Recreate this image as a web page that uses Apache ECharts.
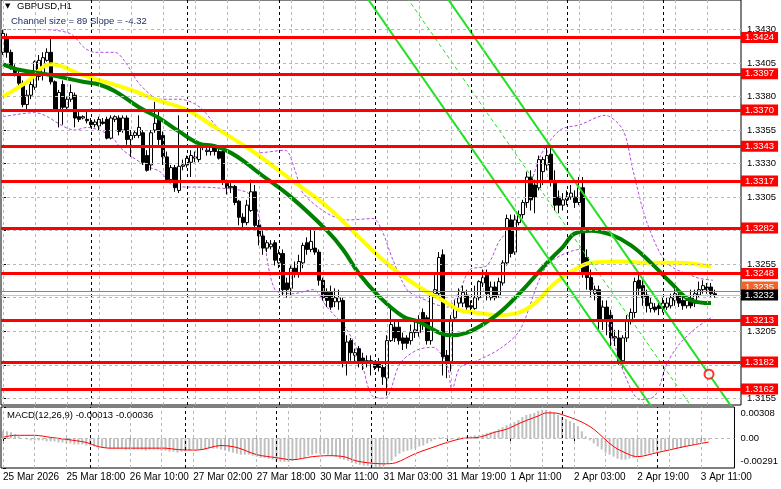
<!DOCTYPE html>
<html><head><meta charset="utf-8">
<script src="https://cdn.jsdelivr.net/npm/echarts@6/dist/echarts.min.js"></script>
<style>html,body{margin:0;padding:0;background:#fff}#c{width:781px;height:489px}</style>
</head><body><div id="c"></div>
<script>
// ---------- DATA ----------
const symbolTitle = 'GBPUSD,H1';
const channelText = 'Channel size = 89 Slope = -4.32';
const macdText = 'MACD(12,26,9) -0.00013 -0.00036';
const slots = 185;
const timeLabels = ['25 Mar 2026','25 Mar 18:00','26 Mar 10:00','27 Mar 02:00','27 Mar 18:00','30 Mar 11:00','31 Mar 03:00','31 Mar 19:00','1 Apr 11:00','2 Apr 03:00','2 Apr 19:00','3 Apr 11:00'];
const timeLabelBars = [0,16,32,48,64,80,96,112,128,144,160,176];
const daySeparatorBars = [22,46,69,93,117,141,165];
const priceTicks = [1.3155,1.3180,1.3205,1.3230,1.3255,1.3280,1.3305,1.3330,1.3355,1.3380,1.3405,1.3430];
const macdTicks = [-0.00291, 0, 0.00308];
const levels = [1.3424,1.3397,1.3370,1.3343,1.3317,1.3282,1.3248,1.3213,1.3182,1.3162];
const bidPrice = 1.3232;
const askPrice = 1.3235;

const open = [1.3413,1.3424,1.3413,1.3401,1.3396,1.3390,1.3374,1.3381,1.3387,1.3395,1.3396,1.3407,1.3413,1.3391,1.3370,1.3389,1.3372,1.3378,1.3381,1.3365,
1.3364,1.3363,1.3361,1.3359,1.3358,1.3361,1.3363,1.3349,1.3363,1.3364,1.3355,1.3364,1.3348,1.3351,1.3351,1.3353,1.3336,1.3329,1.3355,1.3363,
1.3351,1.3335,1.3318,1.3327,1.3310,1.3328,1.3329,1.3331,1.3334,1.3333,1.3342,1.3339,1.3339,1.3342,1.3339,1.3339,1.3316,1.3312,1.3313,1.3302,
1.3290,1.3286,1.3295,1.3309,1.3284,1.3276,1.3267,1.3268,1.3271,1.3256,1.3263,1.3241,1.3237,1.3252,1.3248,1.3256,1.3271,1.3266,1.3267,1.3264,
1.3243,1.3234,1.3234,1.3227,1.3227,1.3228,1.3182,1.3198,1.3187,1.3192,1.3185,1.3183,1.3183,1.3181,1.3181,1.3178,1.3170,1.3198,1.3208,1.3208,
1.3200,1.3200,1.3198,1.3204,1.3204,1.3219,1.3215,1.3198,1.3233,1.3233,1.3262,1.3187,1.3182,1.3215,1.3226,1.3226,1.3232,1.3224,1.3222,1.3230,
1.3241,1.3247,1.3230,1.3238,1.3232,1.3241,1.3256,1.3288,1.3264,1.3286,1.3292,1.3301,1.3320,1.3314,1.3312,1.3324,1.3329,1.3337,1.3316,1.3305,
1.3299,1.3303,1.3305,1.3305,1.3301,1.3312,1.3260,1.3245,1.3233,1.3236,1.3213,1.3223,1.3217,1.3200,1.3200,1.3183,1.3200,1.3213,1.3219,1.3243,
1.3239,1.3232,1.3222,1.3223,1.3224,1.3222,1.3223,1.3224,1.3228,1.3232,1.3228,1.3224,1.3230,1.3226,1.3232,1.3236,1.3238,1.3238,1.3233];
const close = [1.3427,1.3413,1.3401,1.3398,1.3390,1.3374,1.3381,1.3389,1.3406,1.3407,1.3409,1.3413,1.3391,1.3370,1.3383,1.3372,1.3378,1.3383,1.3364,1.3363,
1.3365,1.3362,1.3359,1.3361,1.3363,1.3360,1.3349,1.3364,1.3365,1.3354,1.3364,1.3348,1.3351,1.3353,1.3357,1.3331,1.3325,1.3353,1.3360,1.3348,
1.3335,1.3318,1.3327,1.3312,1.3328,1.3329,1.3334,1.3336,1.3335,1.3342,1.3343,1.3340,1.3342,1.3339,1.3334,1.3316,1.3312,1.3313,1.3301,1.3290,
1.3286,1.3299,1.3309,1.3284,1.3276,1.3267,1.3271,1.3270,1.3258,1.3263,1.3236,1.3236,1.3252,1.3248,1.3257,1.3269,1.3266,1.3272,1.3264,1.3243,
1.3230,1.3228,1.3223,1.3230,1.3230,1.3181,1.3197,1.3189,1.3189,1.3182,1.3183,1.3182,1.3181,1.3178,1.3178,1.3171,1.3198,1.3210,1.3200,1.3198,
1.3196,1.3196,1.3204,1.3206,1.3212,1.3210,1.3198,1.3232,1.3236,1.3260,1.3186,1.3182,1.3213,1.3222,1.3230,1.3234,1.3223,1.3223,1.3230,1.3242,
1.3245,1.3233,1.3238,1.3230,1.3242,1.3256,1.3289,1.3263,1.3288,1.3292,1.3301,1.3320,1.3303,1.3305,1.3333,1.3333,1.3336,1.3316,1.3299,1.3299,
1.3303,1.3305,1.3308,1.3301,1.3312,1.3248,1.3245,1.3236,1.3236,1.3213,1.3223,1.3213,1.3200,1.3201,1.3183,1.3200,1.3213,1.3219,1.3242,1.3237,
1.3230,1.3224,1.3226,1.3221,1.3222,1.3226,1.3226,1.3230,1.3233,1.3226,1.3224,1.3228,1.3224,1.3233,1.3236,1.3239,1.3236,1.3233,1.3232];
const high = [1.3430,1.3427,1.3415,1.3404,1.3400,1.3392,1.3385,1.3392,1.3407,1.3411,1.3413,1.3416,1.3425,1.3392,1.3385,1.3392,1.3380,1.3389,1.3383,1.3369,
1.3366,1.3370,1.3364,1.3363,1.3365,1.3364,1.3365,1.3366,1.3366,1.3366,1.3366,1.3366,1.3355,1.3355,1.3366,1.3355,1.3340,1.3355,1.3376,1.3370,
1.3354,1.3339,1.3329,1.3329,1.3366,1.3333,1.3336,1.3340,1.3339,1.3344,1.3344,1.3342,1.3344,1.3344,1.3342,1.3340,1.3318,1.3316,1.3314,1.3303,
1.3293,1.3303,1.3318,1.3314,1.3288,1.3280,1.3273,1.3273,1.3273,1.3266,1.3266,1.3245,1.3254,1.3257,1.3262,1.3271,1.3275,1.3282,1.3282,1.3266,
1.3245,1.3237,1.3239,1.3237,1.3236,1.3230,1.3202,1.3200,1.3192,1.3194,1.3189,1.3187,1.3187,1.3183,1.3185,1.3180,1.3202,1.3222,1.3212,1.3212,
1.3204,1.3202,1.3210,1.3213,1.3217,1.3222,1.3217,1.3234,1.3247,1.3264,1.3266,1.3191,1.3217,1.3228,1.3237,1.3239,1.3236,1.3228,1.3239,1.3243,
1.3251,1.3251,1.3242,1.3242,1.3245,1.3258,1.3292,1.3292,1.3292,1.3295,1.3303,1.3324,1.3325,1.3318,1.3336,1.3335,1.3342,1.3344,1.3325,1.3310,
1.3308,1.3310,1.3314,1.3310,1.3320,1.3320,1.3266,1.3251,1.3239,1.3239,1.3228,1.3228,1.3221,1.3206,1.3206,1.3202,1.3217,1.3222,1.3245,1.3247,
1.3243,1.3236,1.3230,1.3226,1.3228,1.3230,1.3230,1.3233,1.3239,1.3236,1.3232,1.3232,1.3236,1.3236,1.3242,1.3243,1.3241,1.3241,1.3236];
const low = [1.3411,1.3409,1.3400,1.3395,1.3387,1.3372,1.3369,1.3378,1.3385,1.3392,1.3392,1.3406,1.3389,1.3369,1.3357,1.3359,1.3370,1.3376,1.3357,1.3361,
1.3363,1.3360,1.3357,1.3357,1.3355,1.3359,1.3348,1.3348,1.3361,1.3351,1.3353,1.3344,1.3335,1.3349,1.3349,1.3329,1.3324,1.3325,1.3353,1.3344,
1.3329,1.3316,1.3316,1.3309,1.3308,1.3325,1.3327,1.3320,1.3331,1.3331,1.3340,1.3336,1.3336,1.3336,1.3333,1.3314,1.3307,1.3308,1.3299,1.3284,
1.3280,1.3284,1.3294,1.3280,1.3269,1.3262,1.3264,1.3266,1.3254,1.3252,1.3232,1.3230,1.3232,1.3245,1.3245,1.3252,1.3262,1.3264,1.3262,1.3239,
1.3228,1.3223,1.3221,1.3223,1.3221,1.3178,1.3172,1.3183,1.3182,1.3178,1.3176,1.3178,1.3172,1.3176,1.3175,1.3165,1.3157,1.3197,1.3197,1.3195,
1.3191,1.3192,1.3195,1.3200,1.3201,1.3206,1.3195,1.3195,1.3230,1.3230,1.3172,1.3170,1.3175,1.3212,1.3222,1.3223,1.3219,1.3219,1.3221,1.3228,
1.3238,1.3228,1.3228,1.3228,1.3230,1.3239,1.3254,1.3260,1.3262,1.3284,1.3289,1.3297,1.3295,1.3293,1.3310,1.3314,1.3325,1.3313,1.3295,1.3293,
1.3295,1.3299,1.3303,1.3297,1.3299,1.3245,1.3236,1.3230,1.3228,1.3206,1.3206,1.3202,1.3194,1.3194,1.3180,1.3178,1.3197,1.3210,1.3215,1.3232,
1.3224,1.3219,1.3219,1.3219,1.3217,1.3219,1.3221,1.3222,1.3224,1.3223,1.3221,1.3222,1.3222,1.3223,1.3230,1.3233,1.3233,1.3230,1.3230];

// moving averages: [bar, price]
const maYellow = [[0,1.3380],[6,1.3391],[12,1.3404],[20,1.3396],[32,1.3385],[38,1.3378],[46,1.3370],[53,1.3357],[61,1.3342],[64,1.3336],[72,1.3318],[81,1.3298],[89,1.3275],[97,1.3253],[104,1.3238],[110,1.3228],[114,1.3221],[118,1.3219],[124,1.3217],[129,1.3219],[133,1.3226],[138,1.3241],[143,1.3251],[147,1.3256],[155,1.3257],[161,1.3256],[169,1.3256],[177,1.3253]];
const maGreen = [[0,1.3404],[4,1.3400],[12,1.3396],[20,1.3391],[24,1.3389],[28,1.3384],[34,1.3372],[39,1.3364],[44,1.3354],[49,1.3345],[53,1.3343],[57,1.3338],[61,1.3330],[64,1.3323],[72,1.3305],[81,1.3280],[85,1.3266],[89,1.3248],[94,1.3231],[100,1.3216],[104,1.3212],[109,1.3204],[112,1.3202],[116,1.3204],[121,1.3212],[125,1.3221],[130,1.3236],[136,1.3256],[140,1.3268],[143,1.3278],[147,1.3280],[152,1.3277],[157,1.3269],[162,1.3256],[167,1.3241],[172,1.3228],[177,1.3226]];
const bandUpper = [[0,1.3430],[9.25,1.3430],[16.75,1.3427],[20.5,1.3416],[23,1.3413],[28,1.3413],[30.5,1.3406],[34.25,1.3389],[39.25,1.3378],[44.25,1.3378],[49.25,1.3372],[54.25,1.3355],[59.25,1.3345],[63.5,1.3338],[70.5,1.3340],[73,1.3325],[75,1.3308],[81,1.3293],[86,1.3288],[92.5,1.3289],[94.75,1.3280],[97.5,1.3258],[101,1.3236],[104.25,1.3230],[111,1.3223],[114.25,1.3236],[116.75,1.3251],[121,1.3254],[124.25,1.3273],[129.25,1.3289],[134.25,1.3335],[139.25,1.3355],[144.25,1.3359],[150.5,1.3366],[155,1.3355],[157.5,1.3325],[161,1.3286],[166,1.3256],[173.5,1.3245],[177.5,1.3243]];
const bandLower = [[0,1.3365],[8,1.3368],[18,1.3355],[21,1.3357],[26.75,1.3351],[30,1.3340],[36,1.3328],[39.25,1.3324],[43,1.3313],[53,1.3312],[61.75,1.3307],[64.75,1.3280],[68,1.3236],[72.5,1.3233],[77.5,1.3236],[81,1.3223],[86,1.3206],[89.25,1.3186],[92.25,1.3157],[95.5,1.3155],[99.25,1.3181],[103.5,1.3191],[107.5,1.3193],[111,1.3180],[112.25,1.3161],[114.25,1.3178],[118.5,1.3183],[124.25,1.3192],[129.25,1.3206],[136,1.3254],[144.25,1.3266],[146.75,1.3247],[151.75,1.3206],[155.5,1.3172],[159.25,1.3154],[163,1.3157],[166,1.3181],[169.25,1.3196],[173.5,1.3208],[177.5,1.3216]];
// regression channel lines: [bar, price] end points
const channelLower = [[90,1.3458],[163,1.3145]];
const channelMid = [[100,1.3458],[173,1.3145]];
const channelUpper = [[110,1.3458],[183,1.3145]];
const markerPoint = [[176.5,1.3173]];

// MACD (units of 0.0001)
const macdHist = [7,7,6,4,2,0,-1,-2,-2,-2,-2,-3,-3,-3,-4,-4,-5,-5,-6,-6,-6,-7,-7,-8,-8,-9,-9,-10,-10,-10,-10,-11,-11,-11,-11,-11,-12,-11,-11,-11,
-12,-12,-13,-13,-14,-13,-13,-12,-11,-11,-11,-11,-10,-10,-10,-11,-12,-13,-14,-15,-16,-16,-16,-17,-18,-19,-19,-20,-21,-22,-23,-23,-23,-22,-21,-20,-19,-17,-16,-15,
-15,-15,-16,-17,-18,-20,-21,-22,-24,-25,-26,-27,-27,-28,-28,-28,-27,-25,-22,-18,-15,-13,-12,-11,-10,-8,-7,-5,-3,-1,1,1,-1,-1,0,1,1,2,2,3,
3,4,5,6,7,9,11,13,14,16,18,21,23,24,25,27,28,28,27,25,23,21,19,17,15,12,7,2,-2,-5,-8,-11,-14,-16,-18,-20,-21,-21,-20,-19,
-18,-17,-16,-15,-14,-13,-12,-12,-11,-10,-10,-9,-8,-7,-6,-5,-4,-3,-1.3];
const macdSignal = [[0,1],[3,3],[8,3],[12,1],[16,-1],[21,-4],[24,-8],[27,-9.6],[41,-9.6],[44,-11],[49,-11.5],[55,-7],[59,-9],[64,-16],[69,-19],[73,-21],[78,-18],[82,-17],[86,-18],[89,-22],[92,-24],[96,-25],[99,-24],[104,-15],[109,-8],[112,-4],[116,0],[120,1],[124,6],[127,9],[131,16],[135,22],[137,25],[139,25],[142,22],[146,16],[149,9],[154,-8],[158,-16],[160,-18],[165,-14],[172,-8],[178,-3.6]];
const macdUnit = 0.0001;

// ---------- CHART ----------
const FONT = '"Liberation Sans", Arial, sans-serif';
const cats = Array.from({length: slots}, (_, i) => String(i));
const labelAt = {};
timeLabelBars.forEach((b, k) => { labelAt[b] = timeLabels[k]; });
const isLabelBar = (idx) => labelAt[idx] !== undefined;
const candleData = open.map((o, i) => [o, close[i], low[i], high[i]]);
const gridBars = [];
for (let b = 0; b <= 176; b += 8) gridBars.push(b);

const grayDash = {color: '#b8b8b8', type: [3, 3], width: 1};
const blackDash = {color: '#000', type: [3, 3], width: 1};

function gridMarkLines(hValues) {
  return {
    silent: true, symbol: ['none', 'none'], animation: false, precision: 6,
    label: {show: false}, emphasis: {disabled: true},
    data: [].concat(
      gridBars.map(b => ({xAxis: b, lineStyle: grayDash})),
      daySeparatorBars.map(b => ({xAxis: b, lineStyle: blackDash})),
      hValues.map(v => ({yAxis: v, lineStyle: grayDash}))
    )
  };
}

const boxLabel = (bg, extra) => Object.assign({
  show: true, position: 'end', distance: 0,
  backgroundColor: bg, color: '#fff', fontSize: 9.5, fontFamily: FONT,
  padding: [1, 4, 0, 4], formatter: p => Number(p.value).toFixed(4)
}, extra || {});

const levelItems = levels.map(v => ({
  yAxis: v, lineStyle: {color: '#ff0000', width: 3, type: 'solid'}, label: boxLabel('#ff0000')
}));
levelItems.push({yAxis: askPrice, lineStyle: {color: '#f0642a', width: 1, type: 'solid'}, label: boxLabel('#f0642a', {offset: [0, -4]})});
levelItems.push({yAxis: bidPrice, lineStyle: {color: '#c4c4c4', width: 1, type: 'solid'}, label: boxLabel('#000000')});

const option = {
  animation: false,
  backgroundColor: '#ffffff',
  textStyle: {fontFamily: FONT},
  grid: [
    {left: 1, top: 0, width: 740, height: 405, show: true, borderColor: '#000', borderWidth: 1, containLabel: false},
    {left: 1, top: 407, width: 740, height: 61, show: true, borderColor: '#000', borderWidth: 1, containLabel: false}
  ],
  xAxis: [
    {type: 'category', gridIndex: 0, data: cats, boundaryGap: true, show: false},
    {type: 'category', gridIndex: 1, data: cats, boundaryGap: true,
      axisLine: {show: false},
      axisTick: {show: true, alignWithLabel: true, interval: (idx) => isLabelBar(idx), length: 4, lineStyle: {color: '#000'}},
      axisLabel: {show: true, interval: (idx) => isLabelBar(idx), formatter: (v, idx) => labelAt[idx] || '',
        align: 'left', margin: 4, fontSize: 10, color: '#000', fontFamily: FONT},
      splitLine: {show: false}},
    {type: 'value', gridIndex: 0, min: -0.5, max: slots - 0.5, show: false},
    {type: 'value', gridIndex: 1, min: -0.5, max: slots - 0.5, show: false}
  ],
  yAxis: [
    {type: 'value', gridIndex: 0, position: 'right', min: 1.3150, max: 1.3452, scale: true,
      splitLine: {show: false}, axisLine: {show: false},
      axisTick: {show: true, length: 3, customValues: priceTicks, lineStyle: {color: '#000'}},
      axisLabel: {show: true, customValues: priceTicks, formatter: v => v.toFixed(4), margin: 6,
        fontSize: 9.5, color: '#000', fontFamily: FONT}},
    {type: 'value', gridIndex: 1, position: 'right', min: -0.00291, max: 0.00308,
      splitLine: {show: false}, axisLine: {show: false},
      axisTick: {show: true, length: 3, customValues: macdTicks, lineStyle: {color: '#000'}},
      axisLabel: {show: true, customValues: macdTicks, margin: 6, fontSize: 9.5, color: '#000', fontFamily: FONT,
        formatter: v => v > 0 ? '{t|' + v.toFixed(5) + '}' : (v < 0 ? '{b|' + v.toFixed(5) + '}' : '0.00'),
        rich: {t: {fontSize: 9.5, padding: [12, 0, 0, 0], fontFamily: FONT}, b: {fontSize: 9.5, padding: [0, 0, 14, 0], fontFamily: FONT}}}}
  ],
  graphic: [
    {type: 'text', left: 5, top: 3, style: {text: '▼', font: '7px "DejaVu Sans"', fill: '#000'}},
    {type: 'text', left: 17, top: 1, style: {text: symbolTitle, font: '9.5px ' + FONT, fill: '#000'}},
    {type: 'text', left: 11, top: 16, style: {text: channelText, font: '9.5px ' + FONT, fill: '#1a2f66'}},
    {type: 'text', left: 7, top: 410, style: {text: macdText, font: '9.5px ' + FONT, fill: '#000'}}
  ],
  series: [
    {name: 'gridMain', type: 'line', xAxisIndex: 2, yAxisIndex: 0, data: [], z: 1, markLine: gridMarkLines(priceTicks)},
    {name: 'gridMacd', type: 'line', xAxisIndex: 3, yAxisIndex: 1, data: [], z: 1, markLine: gridMarkLines([0])},
    {name: 'bandUpper', type: 'line', xAxisIndex: 2, yAxisIndex: 0, data: bandUpper, showSymbol: false, smooth: 0.3,
      lineStyle: {color: '#b44be0', width: 1, type: [3, 2]}, z: 2},
    {name: 'bandLower', type: 'line', xAxisIndex: 2, yAxisIndex: 0, data: bandLower, showSymbol: false, smooth: 0.3,
      lineStyle: {color: '#b44be0', width: 1, type: [3, 2]}, z: 2},
    {name: 'candles', type: 'candlestick', xAxisIndex: 0, yAxisIndex: 0, data: candleData, barWidth: 3, z: 3,
      itemStyle: {color: '#ffffff', color0: '#000000', borderColor: '#000000', borderColor0: '#000000', borderWidth: 1}},
    {name: 'maYellow', type: 'line', xAxisIndex: 2, yAxisIndex: 0, data: maYellow, showSymbol: false, smooth: 0.4,
      lineStyle: {color: '#ffff00', width: 4}, z: 4},
    {name: 'maGreen', type: 'line', xAxisIndex: 2, yAxisIndex: 0, data: maGreen, showSymbol: false, smooth: 0.4,
      lineStyle: {color: '#008000', width: 4}, z: 4},
    {name: 'chLower', type: 'line', xAxisIndex: 2, yAxisIndex: 0, data: channelLower, showSymbol: false,
      lineStyle: {color: '#22e022', width: 2}, z: 4},
    {name: 'chMid', type: 'line', xAxisIndex: 2, yAxisIndex: 0, data: channelMid, showSymbol: false,
      lineStyle: {color: '#22e022', width: 1, type: [4, 3]}, z: 4},
    {name: 'chUpper', type: 'line', xAxisIndex: 2, yAxisIndex: 0, data: channelUpper, showSymbol: false,
      lineStyle: {color: '#22e022', width: 2}, z: 4},
    {name: 'levels', type: 'line', xAxisIndex: 2, yAxisIndex: 0, data: [], z: 5,
      markLine: {silent: true, symbol: ['none', 'none'], animation: false, precision: 6, emphasis: {disabled: true}, data: levelItems}},
    {name: 'marker', type: 'scatter', xAxisIndex: 2, yAxisIndex: 0, data: markerPoint, symbol: 'emptyCircle', symbolSize: 9,
      itemStyle: {color: '#ff0000', borderColor: '#ff0000', borderWidth: 1}, z: 6},
    {name: 'macd', type: 'bar', xAxisIndex: 1, yAxisIndex: 1, data: macdHist.map(v => v * macdUnit), barWidth: 2,
      itemStyle: {color: '#c0c0c0'}, z: 2},
    {name: 'signal', type: 'line', xAxisIndex: 3, yAxisIndex: 1, data: macdSignal.map(p => [p[0], p[1] * macdUnit]), showSymbol: false, smooth: 0.3,
      lineStyle: {color: '#ff0000', width: 1}, z: 3}
  ]
};
const chart = echarts.init(document.getElementById('c'), null, {renderer: 'canvas', width: 781, height: 489});
chart.setOption(option);
</script></body></html>
